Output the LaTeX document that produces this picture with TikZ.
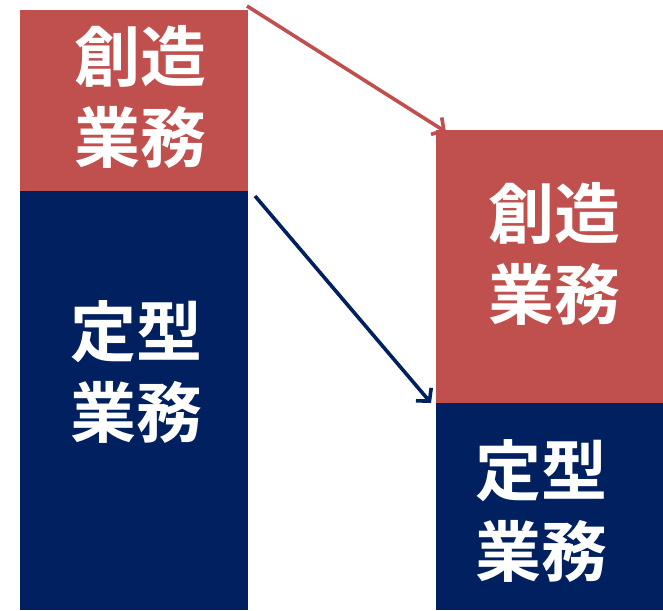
\documentclass[tikz,border=0pt]{standalone}
\usepackage{fontspec}
\newfontfamily\jpfont{Noto Sans CJK JP Bold}
\usetikzlibrary{arrows.meta}

\definecolor{sozored}{HTML}{C0504D}
\definecolor{teikeiblue}{HTML}{002060}

\tikzset{
  blocktext/.style={text=white, font=\jpfont\fontsize{66}{81}\selectfont, align=center},
  shiftarrow/.style={line width=3.6pt, -{Straight Barb[length=9pt,width=20pt]}}
}

\begin{document}
\begin{tikzpicture}[x=1pt, y=-1pt]
  \useasboundingbox (0,0) rectangle (663,610);
  % left column
  \fill[sozored] (20,10) rectangle (248,190.5);
  \fill[teikeiblue] (20,190.5) rectangle (248,610);
  % right column
  \fill[sozored] (436,130) rectangle (663,402.5);
  \fill[teikeiblue] (436,402.5) rectangle (663,610);

  \node[blocktext] (soL) at (140,97) {創造\\業務};
  \node[blocktext] (teL) at (136,372) {定型\\業務};
  \node[blocktext] (soR) at (554,254) {創造\\業務};
  \node[blocktext] (teR) at (541,511) {定型\\業務};

  \coordinate (redS) at (247,6);
  \coordinate (redE) at (446,132);
  \coordinate (blueS) at (255,196);
  \coordinate (blueE) at (431,403);

  \draw[shiftarrow, draw=sozored] (redS) -- (redE);
  \draw[shiftarrow, draw=teikeiblue] (blueS) -- (blueE);
\end{tikzpicture}
\end{document}
